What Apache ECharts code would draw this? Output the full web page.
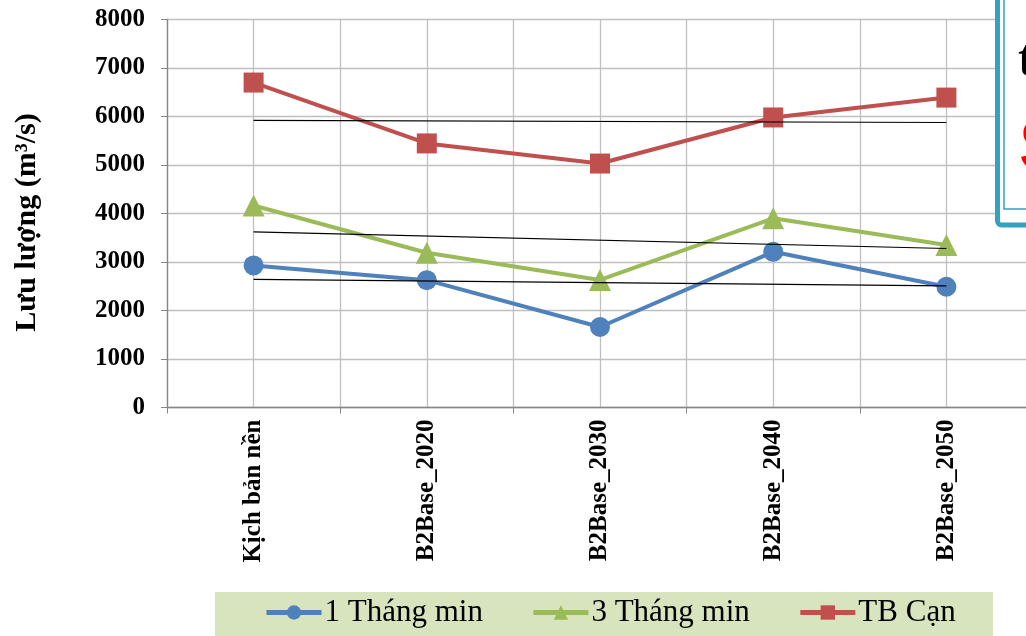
<!DOCTYPE html>
<html>
<head>
<meta charset="utf-8">
<script src="https://cdn.jsdelivr.net/npm/echarts@6/dist/echarts.min.js"></script>
<style>
html, body { margin: 0; padding: 0; background: #fff; }
#chart { width: 1026px; height: 636px; }
</style>
</head>
<body>
<div id="chart"></div>
<script>
// kịch bản (trục hoành)
var categories = ['Kịch bản nền', 'B2Base_2020', 'B2Base_2030', 'B2Base_2040', 'B2Base_2050'];
// lưu lượng m3/s
var thang1Min = [2930, 2625, 1660, 3210, 2490];
var thang3Min = [4165, 3190, 2630, 3900, 3350];
var tbCan = [6700, 5445, 5030, 5980, 6390];
// đường xu thế (đầu, cuối)
var trend1 = [2640, 2507];
var trend3 = [3621, 3278];
var trendTB = [5920, 5876];
var yTicks = [0, 8000, 1000];

var SERIF = "'Liberation Serif', 'Times New Roman', serif";
var GRID = '#bfbfbf';

var chart = echarts.init(document.getElementById('chart'));

function trendLine(vals) {
	return {
		type: 'line',
		data: [[0, vals[0]], [categories.length - 1, vals[1]]],
		symbol: 'none',
		silent: true,
		z: 5,
		lineStyle: { color: '#000', width: 1.2 }
	};
}

var option = {
	animation: false,
	backgroundColor: '#fff',
	grid: { left: 167, top: 19.5, width: 866, height: 388, outerBoundsMode: 'none' },
	legend: {
		data: ['1 Tháng min', '3 Tháng min', 'TB Cạn'],
		left: 264,
		top: 597,
		padding: 0,
		itemWidth: 55,
		itemHeight: 18,
		itemGap: 48,
		lineStyle: { width: 5 },
		textStyle: { fontFamily: SERIF, fontSize: 31, color: '#000', padding: [0, 0, 0, -2] }
	},
	xAxis: [{
		type: 'category',
		data: categories,
		boundaryGap: true,
		axisLine: { lineStyle: { color: '#868686', width: 1.3 } },
		axisTick: { show: true, length: 6, lineStyle: { color: '#868686' } },
		splitLine: { show: false },
		axisLabel: {
			rotate: 90,
			margin: 12,
			fontFamily: SERIF,
			fontWeight: 'bold',
			fontSize: 25,
			color: '#000'
		}
	}, {
		// lưới dọc mỗi nửa khoảng
		type: 'value',
		min: 0,
		max: 10,
		interval: 1,
		position: 'bottom',
		axisLine: { show: false },
		axisTick: { show: false },
		axisLabel: { show: false },
		splitLine: { show: true, lineStyle: { color: GRID, width: 1.3 } }
	}],
	yAxis: {
		type: 'value',
		min: yTicks[0],
		max: yTicks[1],
		interval: yTicks[2],
		name: 'Lưu lượng (m³/s)',
		nameLocation: 'middle',
		nameGap: 125,
		nameTextStyle: { fontFamily: SERIF, fontWeight: 'bold', fontSize: 30, color: '#000', padding: [0, 18, 0, 0] },
		axisLine: { show: true, lineStyle: { color: '#868686', width: 1.3 } },
		axisTick: { show: true, length: 6, lineStyle: { color: '#868686' } },
		splitLine: { lineStyle: { color: GRID, width: 1.3 } },
		axisLabel: {
			margin: 22, fontFamily: SERIF, fontWeight: 'bold', fontSize: 25, color: '#000',
			formatter: function(v) { return String(v); }
		}
	},
	series: [{
		name: '1 Tháng min',
		type: 'line',
		data: thang1Min,
		symbol: 'circle',
		symbolSize: 20,
		itemStyle: { color: '#4f81bd' },
		lineStyle: { color: '#4f81bd', width: 4 }
	}, {
		name: '3 Tháng min',
		type: 'line',
		data: thang3Min,
		symbol: 'triangle',
		symbolSize: 22,
		itemStyle: { color: '#9bbb59' },
		lineStyle: { color: '#9bbb59', width: 4 }
	}, {
		name: 'TB Cạn',
		type: 'line',
		data: tbCan,
		symbol: 'rect',
		symbolSize: 20,
		itemStyle: { color: '#c0504d' },
		lineStyle: { color: '#c0504d', width: 4 }
	},
	trendLine(trend1),
	trendLine(trend3),
	trendLine(trendTB)
	],
	graphic: [{
		// nền chú giải
		type: 'rect',
		z: -1,
		shape: { x: 215, y: 592, width: 778, height: 44 },
		style: { fill: '#d7e4bd' }
	}, {
		// khung chữ bị cắt góc phải
		type: 'rect',
		z: 100,
		shape: { x: 997.5, y: -10, width: 100, height: 235, r: 4 },
		style: { fill: '#fff', stroke: '#31a3c0', lineWidth: 5 }
	}, {
		type: 'rect',
		z: 101,
		shape: { x: 1004, y: -10, width: 100, height: 219 },
		style: { fill: 'none', stroke: '#31a3c0', lineWidth: 1.5 }
	}, {
		type: 'text',
		z: 102,
		x: 1018,
		y: 36,
		style: { text: 't', fontFamily: SERIF, fontWeight: 'bold', fontSize: 52, fill: '#000' }
	}, {
		type: 'text',
		z: 102,
		x: 1019,
		y: 114,
		style: { text: 'S', fontFamily: "'Liberation Sans', Arial, sans-serif", fontWeight: 'bold', fontSize: 72, fill: '#ff0000' }
	}]
};

chart.setOption(option);
</script>
</body>
</html>
